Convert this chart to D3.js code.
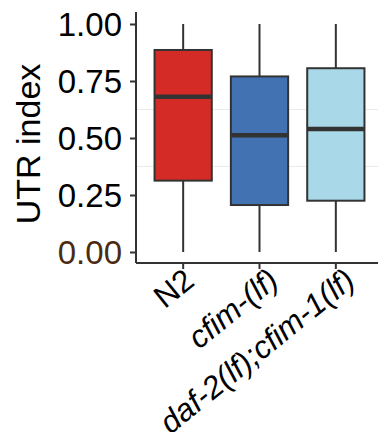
<!DOCTYPE html>
<html><head><meta charset="utf-8">
<script src="https://cdn.jsdelivr.net/npm/d3@7"></script>
<style>body{margin:0;background:#fff}svg{display:block}</style>
</head><body>
<script>
const categories = ["N2", "cfim-(lf)", "daf-2(lf);cfim-1(lf)"];
const italicLabel = [false, true, true];
const whiskerLow = [0.00, 0.00, 0.00];
const q1 = [0.313, 0.206, 0.225];
const median = [0.681, 0.512, 0.539];
const q3 = [0.886, 0.770, 0.806];
const whiskerHigh = [1.00, 1.00, 1.00];
const fills = ["#D52B26", "#4372B2", "#A9D8E8"];
const yTicks = [0, 0.25, 0.5, 0.75, 1.0];
const yTickLabels = ["0.00", "0.25", "0.50", "0.75", "1.00"];
const gridVals = [0.375, 0.625];

const W = 378, H = 432;
const svg = d3.select("body").append("svg").attr("width", W).attr("height", H);
const mLeft = 136, mRight = 378, mTop = 12, mBottom = 263;
const FONT = "Liberation Sans, Arial, sans-serif";

const y = d3.scaleLinear().domain([0, 1]).range([252, 24]);
const x = d3.scaleBand().domain(categories).range([145, 374]).paddingInner(0.25).paddingOuter(0.125);

// grid
svg.append("g").selectAll("line").data(gridVals).join("line")
  .attr("x1", mLeft).attr("x2", mRight).attr("y1", d => y(d)).attr("y2", d => y(d))
  .attr("stroke", "#ebebeb").attr("stroke-width", 1);

const data = categories.map((c, i) => ({c, lo: whiskerLow[i], q1: q1[i], med: median[i], q3: q3[i], hi: whiskerHigh[i], fill: fills[i]}));
const g = svg.append("g");
const cx = d => x(d.c) + x.bandwidth() / 2;
g.selectAll(".wl").data(data).join("line").attr("class", "wl")
  .attr("x1", cx).attr("x2", cx).attr("y1", d => y(d.hi)).attr("y2", d => y(d.q3))
  .attr("stroke", "#333").attr("stroke-width", 2);
g.selectAll(".wl2").data(data).join("line").attr("class", "wl2")
  .attr("x1", cx).attr("x2", cx).attr("y1", d => y(d.q1)).attr("y2", d => y(d.lo))
  .attr("stroke", "#333").attr("stroke-width", 2);
g.selectAll("rect").data(data).join("rect")
  .attr("x", d => x(d.c)).attr("width", x.bandwidth())
  .attr("y", d => y(d.q3)).attr("height", d => y(d.q1) - y(d.q3))
  .attr("fill", d => d.fill).attr("stroke", "#333").attr("stroke-width", 2);
g.selectAll(".med").data(data).join("line").attr("class", "med")
  .attr("x1", d => x(d.c)).attr("x2", d => x(d.c) + x.bandwidth())
  .attr("y1", d => y(d.med)).attr("y2", d => y(d.med))
  .attr("stroke", "#333").attr("stroke-width", 4.5);

// axes
const yAxis = svg.append("g").attr("transform", `translate(${mLeft},0)`)
  .call(d3.axisLeft(y).tickValues(yTicks).tickFormat((d, i) => yTickLabels[i]).tickSize(6).tickPadding(8));
yAxis.select(".domain").attr("d", `M0,${mTop}V${mBottom}`).attr("stroke", "#333").attr("stroke-width", 2);
yAxis.selectAll(".tick line").attr("stroke", "#333").attr("stroke-width", 2);
yAxis.selectAll(".tick text").attr("font-family", FONT)
  .attr("font-size", 33).attr("fill", d => d === 0 ? "#4b2a12" : "#000").attr("dy", "0.36em");

const xAxis = svg.append("g").attr("transform", `translate(0,${mBottom})`)
  .call(d3.axisBottom(x).tickSize(6).tickSizeOuter(0));
xAxis.select(".domain").attr("d", `M${mLeft},0H${mRight}`).attr("stroke", "#333").attr("stroke-width", 2);
xAxis.selectAll(".tick line").attr("stroke", "#333").attr("stroke-width", 2);
xAxis.selectAll(".tick text")
  .attr("font-family", FONT).attr("font-size", 31.5)
  .attr("font-style", (d, i) => italicLabel[i] ? "italic" : "normal")
  .attr("fill", "#000").attr("text-anchor", "end").attr("dy", null).attr("y", null)
  .attr("transform", (d, i) => `translate(${italicLabel[i] ? 21 : 13},21) rotate(-39)`);

svg.append("text").attr("transform", "translate(40,144) rotate(-90)")
  .attr("text-anchor", "middle").attr("font-family", FONT)
  .attr("font-size", 34).attr("fill", "#000").text("UTR index");
</script>
</body></html>
